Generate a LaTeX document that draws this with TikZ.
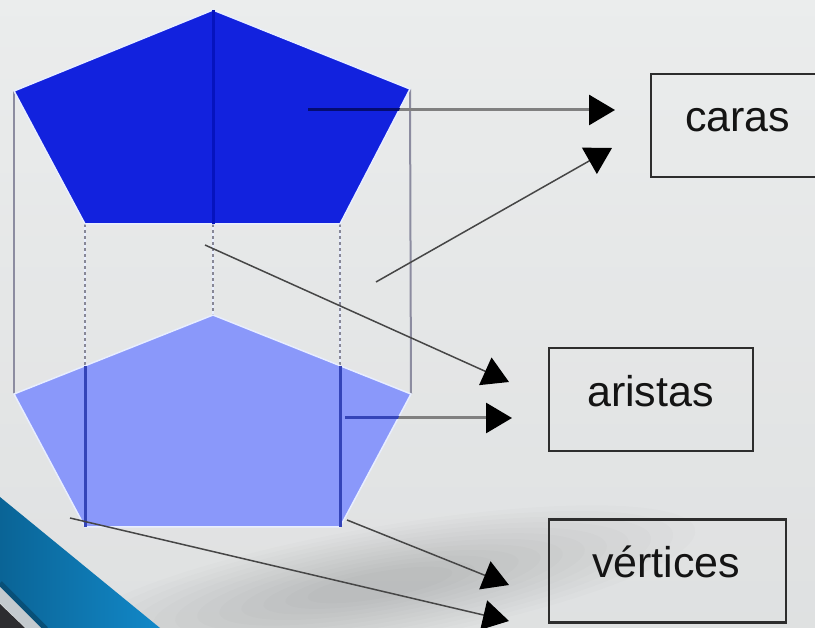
\documentclass[tikz,border=0pt]{standalone}
\usepackage{fontspec}
\setmainfont{Liberation Sans}
\usetikzlibrary{arrows.meta}

\definecolor{bgtop}{RGB}{222,225,225}
\definecolor{bgbot}{RGB}{202,205,206}
\definecolor{bandmid}{RGB}{18,136,200}
\definecolor{banddark}{RGB}{10,100,150}
\definecolor{bandedge}{RGB}{8,80,120}
\definecolor{cornerdark}{RGB}{45,45,48}
\definecolor{stripgray}{RGB}{196,202,206}
\definecolor{topblue}{RGB}{18,34,222}
\definecolor{topline}{RGB}{6,20,190}
\definecolor{baseblue}{RGB}{138,152,250}
\definecolor{baseline}{RGB}{52,68,184}
\definecolor{halo}{RGB}{232,238,255}
\definecolor{sidegray}{RGB}{140,140,160}
\definecolor{hidgray}{RGB}{135,135,150}
\definecolor{ptrgray}{RGB}{70,70,70}
\definecolor{ptrlight}{RGB}{128,128,128}
\definecolor{boxgray}{RGB}{45,45,45}
\definecolor{textdark}{RGB}{20,20,20}

\begin{document}
\begin{tikzpicture}[x=1pt,y=-1pt,
  sideedge/.style={draw=sidegray,line width=2pt},
  hiddenedge/.style={preaction={draw=halo,line width=2.6pt},
    draw=hidgray,line width=1.6pt,dash pattern=on 3pt off 3pt},
  frontedge/.style={draw=baseline,line width=3pt},
  face/.style={draw=halo,line width=1.5pt,line join=miter},
  pointer/.style={draw=ptrgray,line width=1.5pt,
    -{Triangle[length=26pt,width=30pt,black]}},
  widepointer/.style={draw=ptrlight,line width=3pt,
    -{Triangle[length=26pt,width=30pt,black]}},
  labelbox/.style={draw=boxgray,line width=2.2pt,inner sep=0pt,
    rectangle,minimum width=#1,minimum height=103pt},
  labeltext/.style={font=\fontsize{43}{50}\selectfont,text=textdark,
    anchor=base west,inner sep=0pt}]

\useasboundingbox (0,0) rectangle (815,628);
\clip (0,0) rectangle (815,628);

% backdrop with a soft shadow band near the floor
\shade[top color=bgtop,bottom color=bgbot] (0,0) rectangle (815,628);
\shade[left color=bgtop!0!white,right color=white,opacity=0.4] (0,0) rectangle (815,628);
\foreach \s in {1.0,0.93,0.86,0.79,0.72,0.65,0.58,0.51,0.44,0.37,0.30,0.23}
  \fill[black,opacity=0.012,rotate around={10:(380,585)}]
    (380,585) ellipse [x radius=\s*320pt,y radius=\s*58pt];

% corner band
\fill[stripgray] (0,586) -- (42,628) -- (26,628) -- (0,603) -- cycle;
\shade[left color=banddark,right color=bandmid] (0,497) -- (160,628) -- (45,628) -- (0,583) -- cycle;
\draw[bandedge,line width=5pt] (0,583) -- (46,629);
\fill[cornerdark] (0,604) -- (25,628) -- (0,628) -- cycle;

% prism corners
\coordinate (Ta)  at (213,10);
\coordinate (Tl)  at (14,91);
\coordinate (Tr)  at (410,89);
\coordinate (Tbl) at (85,224);
\coordinate (Tbr) at (340,224);
\coordinate (Tc)  at (213,224);
\coordinate (Ba)  at (213,315);
\coordinate (Bl)  at (14,394);
\coordinate (Br)  at (411,394);
\coordinate (Bbl) at (85,527);
\coordinate (Bbr) at (340,527);
\coordinate (Ml)  at (85,366);
\coordinate (Mr)  at (340,366);

% lateral edges
\draw[sideedge] (Tl) -- (Bl);
\draw[sideedge] (Tr) -- (Br);
\draw[hiddenedge] (Tbl) -- (Bbl);
\draw[hiddenedge] (Tbr) -- (Bbr);
\draw[hiddenedge] (Tc) -- (Ba);

% base face
\filldraw[face,fill=baseblue] (Ba) -- (Br) -- (Bbr) -- (Bbl) -- (Bl) -- cycle;
\draw[frontedge] (Ml) -- (Bbl);
\draw[frontedge] (Mr) -- (Bbr);

% top face
\filldraw[face,fill=topblue] (Ta) -- (Tr) -- (Tbr) -- (Tbl) -- (Tl) -- cycle;
\draw[draw=topline,line width=3pt] (Ta) -- (Tc);

% label boxes
\node[labelbox=179pt] (caras) at (740.5,125.5) {};
\node[labelbox=204pt] (aristas) at (651,399.5) {};
\node[labelbox=237pt] (vertices) at (667.5,571) {};
\node[labeltext] (carasT) at (685,132) {caras};
\node[labeltext] (aristasT) at (587,407) {aristas};
\node[labeltext] (verticesT) at (592,577) {vértices};

% pointer ends
\coordinate (c1) at (308,110);  \coordinate (e1) at (615,110);
\coordinate (c2) at (376,282);  \coordinate (e2) at (612,148);
\coordinate (a1) at (205,245);  \coordinate (e3) at (509,382);
\coordinate (a2) at (345,418);  \coordinate (e4) at (512,418);
\coordinate (v1) at (347,520);  \coordinate (e5) at (509,585);
\coordinate (v2) at (70,518);   \coordinate (e6) at (509,621);

% pointers
\draw[widepointer] (c1) -- (e1);
\draw[pointer] (c2) -- (e2);
\draw[pointer] (a1) -- (e3);
\draw[widepointer] (a2) -- (e4);
\draw[pointer] (v1) -- (e5);
\draw[pointer] (v2) -- (e6);

% pointer segments seen over the faces
\begin{scope}
  \clip (Ta) -- (Tr) -- (Tbr) -- (Tbl) -- (Tl) -- cycle;
  \draw[draw=topline!60!black,line width=3pt] (c1) -- (e1);
\end{scope}
\begin{scope}
  \clip (Ba) -- (Br) -- (Bbr) -- (Bbl) -- (Bl) -- cycle;
  \draw[draw=baseline,line width=3pt] (a2) -- (e4);
\end{scope}
\end{tikzpicture}
\end{document}
